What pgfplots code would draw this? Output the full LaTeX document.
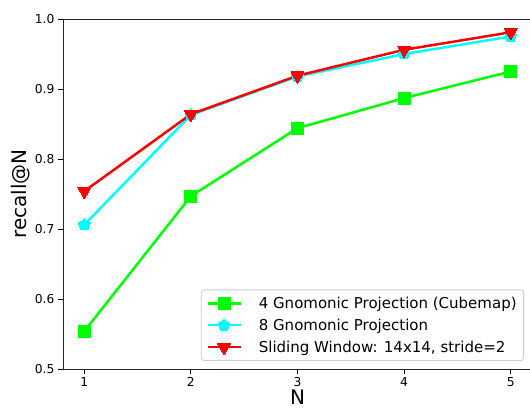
\documentclass[border=0pt]{standalone}
\usepackage{fontspec}
\setmainfont{DejaVu Sans}
\usepackage{pgfplots}
\pgfplotsset{compat=1.18}
\usetikzlibrary{plotmarks}
\definecolor{mgreen}{HTML}{00FF00}
\definecolor{mcyan}{HTML}{00FFFF}
\definecolor{mred}{HTML}{FF0000}
\begin{document}
\begin{tikzpicture}
\begin{axis}[
  scale only axis,
  width=469pt, height=350pt,
  xmin=0.8, xmax=5.2, ymin=0.5, ymax=1.0,
  xtick={1,2,3,4,5},
  ytick={0.5,0.6,0.7,0.8,0.9,1.0},
  yticklabel style={/pgf/number format/fixed, /pgf/number format/fixed zerofill, /pgf/number format/precision=1},
  /pgf/number format/assume math mode=true,
  tick label style={font=\fontsize{12.3}{14}\selectfont},
  xtick pos=bottom, ytick pos=left,
  tick align=outside,
  major tick length=5pt,
  every tick/.style={black, line width=0.9pt},
  axis line style={line width=0.9pt, black!85},
  xlabel={N}, ylabel={recall@N},
  every axis x label/.style={at={(axis description cs:0.5,-0.08)}, anchor=center, font=\fontsize{20}{24}\selectfont},
  every axis y label/.style={at={(axis description cs:-0.0896,0.5)}, anchor=center, rotate=90, font=\fontsize{20}{24}\selectfont},
  legend style={at={(rel axis cs:0.983,0.023)}, anchor=south east, font=\fontsize{15}{18}\selectfont,
    draw=black!20, rounded corners=3pt, line width=0.8pt, row sep=5pt, inner xsep=5pt, inner ysep=5pt},
  legend cell align=left,
  legend image code/.code={\draw[mark repeat=2,mark phase=2] plot coordinates {(0pt,0pt) (16.5pt,0pt) (33pt,0pt)}; \path (48pt,0pt);},
  every axis plot/.append style={line width=2.5pt},
]
\addplot[mgreen, mark=square*, mark size=6pt, mark options={line width=0pt}] coordinates {(1,0.554) (2,0.747) (3,0.844) (4,0.887) (5,0.925)};
\addlegendentry{4 Gnomonic Projection (Cubemap)}
\addplot[mcyan, mark=pentagon*, mark size=6pt, mark options={line width=0pt}] coordinates {(1,0.706) (2,0.863) (3,0.918) (4,0.950) (5,0.975)};
\addlegendentry{8 Gnomonic Projection}
\addplot[mred, mark=triangle*, mark size=7.5pt, mark options={rotate=180, line width=0pt}] coordinates {(1,0.754) (2,0.864) (3,0.919) (4,0.956) (5,0.981)};
\addlegendentry{Sliding Window: 14x14, stride=2}
\end{axis}
\pgfresetboundingbox
\path (-63pt,-43pt) rectangle (467pt,369pt);
\end{tikzpicture}
\end{document}
